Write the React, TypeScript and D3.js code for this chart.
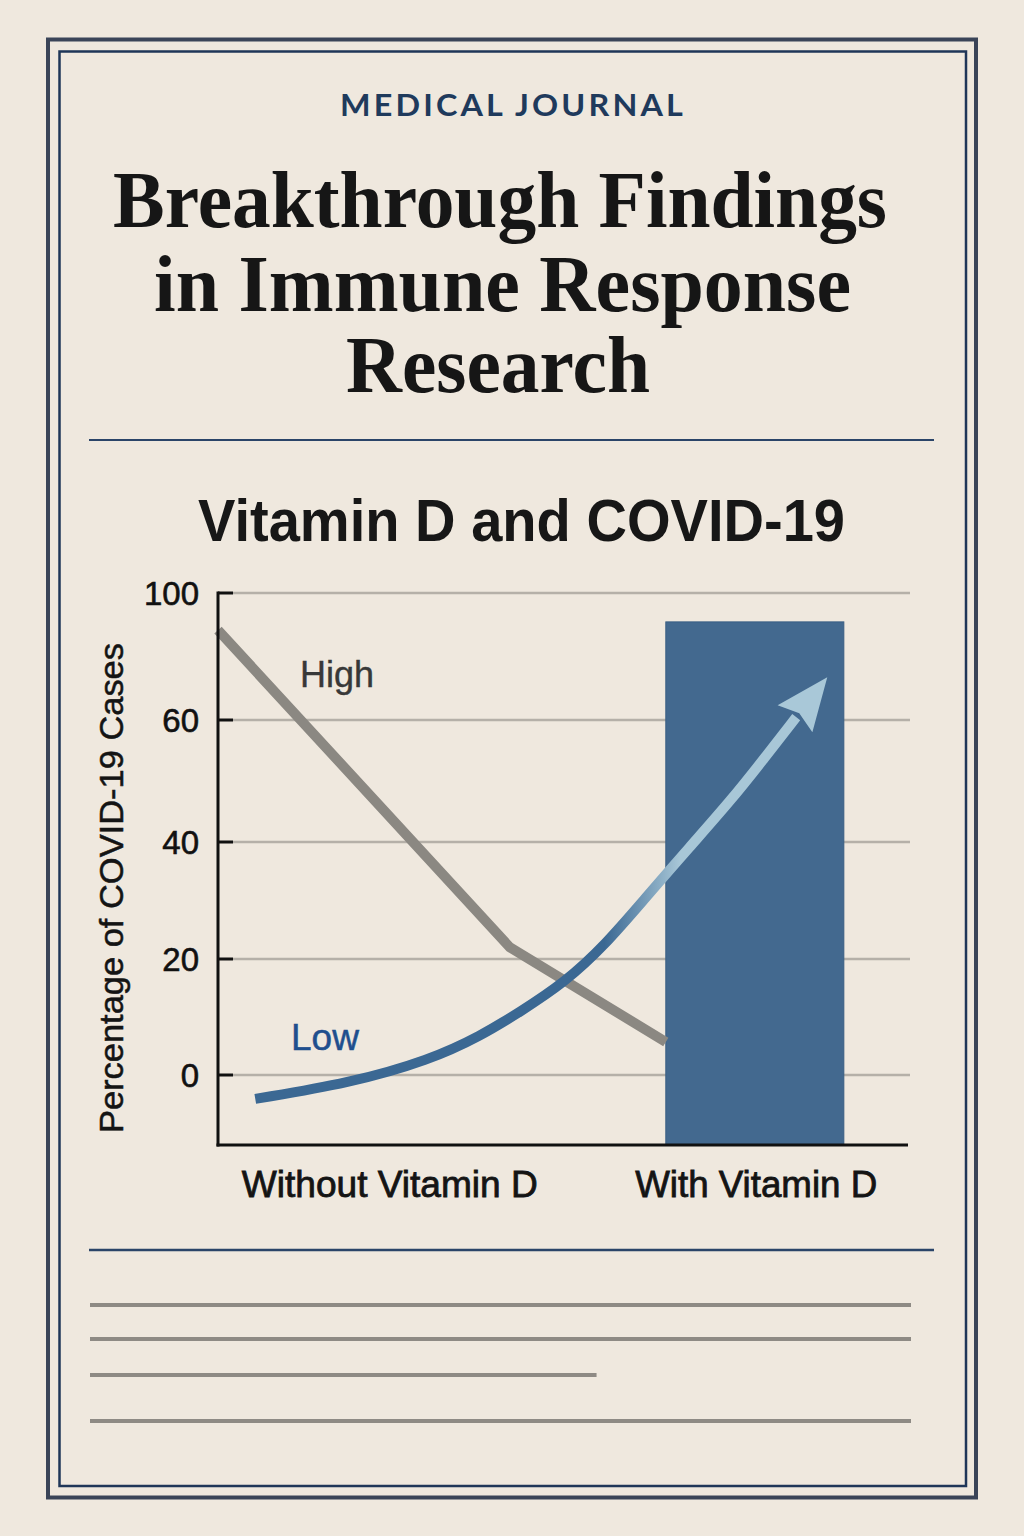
import React from "react";
import * as d3 from "d3";

// ---------- data ----------
const categories = ["Without Vitamin D", "With Vitamin D"];
const categoryPos = [24.9, 78.0]; // x-position (0-100 axis units) of category labels
const yTicks = [0, 20, 40, 60, 100];

// "High" (grey) series
const highX = [0, 42.3, 64.9];
const highY = [88.3, 22.0, 5.7];

// "Low" (blue, rising arrow) series
const lowX = [5.4, 19.1, 30.7, 38.0, 43.8, 50.3, 56.1, 61.7, 68.4, 74.4, 79.3, 83.8];
const lowY = [-4.1, -1.4, 2.6, 6.7, 10.9, 16.0, 22.4, 30.1, 39.2, 46.9, 53.9, 60.9];
const lowTip = { x: 88.3, y: 73.5 };

// bar for "With Vitamin D"
const barX0 = [64.9];
const barX1 = [90.7];
const barValue = [90.9];

const bodyLines = [1, 1, 0.617, 1]; // relative lengths of placeholder text lines

export default function App() {
  const W = 1024;
  const H = 1536;
  const bg = "#efe8de";
  const navy = "#1f3658";

  const x = d3.scaleLinear().domain([0, 100]).range([218, 908]);
  // piecewise axis, as in the original (uneven tick spacing)
  const y = d3
    .scaleLinear()
    .domain([-12, 0, 20, 40, 60, 100])
    .range([1145, 1075, 959, 842, 720, 593]);

  const highPts = highX.map((v, i) => ({ x: v, y: highY[i] }));
  const lowPts = lowX.map((v, i) => ({ x: v, y: lowY[i] }));

  const lineLinear = d3
    .line<{ x: number; y: number }>()
    .x((d) => x(d.x))
    .y((d) => y(d.y));
  const lineCurve = d3
    .line<{ x: number; y: number }>()
    .x((d) => x(d.x))
    .y((d) => y(d.y))
    .curve(d3.curveBasis);

  // arrowhead
  const last = lowPts[lowPts.length - 1];
  const bx = x(last.x);
  const by = y(last.y);
  const tx = x(lowTip.x);
  const ty = y(lowTip.y);
  const len = Math.hypot(tx - bx, ty - by);
  const ux = (tx - bx) / len;
  const uy = (ty - by) / len;
  const nx = -uy;
  const ny = ux;
  const hw = 22;
  const head = [
    [tx, ty],
    [bx + nx * hw - ux * 2, by + ny * hw - uy * 2],
    [bx + ux * 5, by + uy * 5],
    [bx - nx * hw - ux * 2, by - ny * hw - uy * 2],
  ]
    .map((p) => p.join(","))
    .join(" ");

  const gridX0 = 233;
  const gridX1 = 910;
  const axisLeft = x(0);
  const axisBottom = y(-12);

  const sans = "'Liberation Sans', Arial, sans-serif";

  return (
    <svg
      width={W}
      height={H}
      viewBox={`0 0 ${W} ${H}`}
      style={{ position: "absolute", left: 0, top: 0, display: "block" }}
    >
      <defs>
        <linearGradient
          id="lowGrad"
          gradientUnits="userSpaceOnUse"
          x1={x(56)}
          y1={0}
          x2={x(67)}
          y2={0}
        >
          <stop offset="0" stopColor="#3b6893" />
          <stop offset="1" stopColor="#a8c7d7" />
        </linearGradient>
      </defs>
      <rect x={0} y={0} width={W} height={H} fill={bg} />

      {/* frame */}
      <rect x={48} y={39.5} width={928} height={1458} fill="none" stroke="#3a4458" strokeWidth={4} />
      <rect x={59.5} y={51.5} width={906.5} height={1434.5} fill="none" stroke={navy} strokeWidth={2.5} />

      {/* header */}
      <text
        x={340}
        y={116}
        fontFamily="Lato, 'Open Sans', sans-serif"
        fontWeight={700}
        fontSize={31}
        letterSpacing={3}
        fill="#1f3a5c"
        textLength={346}
        lengthAdjust="spacingAndGlyphs"
      >
        MEDICAL JOURNAL
      </text>
      <g fontFamily="'Liberation Serif', 'Times New Roman', serif" fontWeight={700} fill="#161616" fontSize={80} textAnchor="middle">
        <text x={500} y={227} textLength={774} lengthAdjust="spacingAndGlyphs">
          Breakthrough Findings
        </text>
        <text x={502.5} y={311} textLength={697} lengthAdjust="spacingAndGlyphs">
          in Immune Response
        </text>
        <text x={498} y={392} textLength={304} lengthAdjust="spacingAndGlyphs">
          Research
        </text>
      </g>
      <line x1={89} x2={934} y1={440} y2={440} stroke="#2a4468" strokeWidth={2} />

      {/* chart title */}
      <text
        x={198}
        y={541}
        fontFamily={sans}
        fontWeight={700}
        fontSize={59}
        fill="#171717"
        textLength={647}
        lengthAdjust="spacingAndGlyphs"
      >
        Vitamin D and COVID-19
      </text>

      {/* grid + ticks */}
      {yTicks.map((t) => (
        <g key={t}>
          <line x1={gridX0} x2={gridX1} y1={y(t)} y2={y(t)} stroke="#b5b0a8" strokeWidth={2.5} />
          <line x1={axisLeft} x2={gridX0} y1={y(t)} y2={y(t)} stroke="#111" strokeWidth={3} />
          <text
            x={199}
            y={y(t)}
            dy="0.36em"
            textAnchor="end"
            fontFamily={sans}
            fontSize={33}
            fill="#111"
            stroke="#111"
            strokeWidth={0.6}
          >
            {t}
          </text>
        </g>
      ))}

      {/* bar */}
      {barValue.map((v, i) => (
        <rect
          key={i}
          x={x(barX0[i])}
          y={y(v)}
          width={x(barX1[i]) - x(barX0[i])}
          height={axisBottom - y(v)}
          fill="#43698f"
          stroke="#3a5f84"
          strokeWidth={1}
        />
      ))}

      {/* grey "High" line */}
      <path d={lineLinear(highPts) || ""} fill="none" stroke="#8b8882" strokeWidth={10} />

      {/* blue "Low" curve with arrow */}
      <path d={lineCurve(lowPts) || ""} fill="none" stroke="url(#lowGrad)" strokeWidth={10} />
      <polygon points={head} fill="#a9c8d8" />

      {/* axes */}
      <line x1={axisLeft} x2={axisLeft} y1={y(100) - 1.5} y2={axisBottom + 1.5} stroke="#111" strokeWidth={3} />
      <line x1={axisLeft - 1.5} x2={908} y1={axisBottom} y2={axisBottom} stroke="#111" strokeWidth={3} />

      {/* series labels */}
      <text x={300} y={687} fontFamily={sans} fontSize={36} fill="#383838" stroke="#383838" strokeWidth={0.4}>
        High
      </text>
      <text x={291} y={1050} fontFamily={sans} fontSize={37} fill="#1f4f8e" stroke="#1f4f8e" strokeWidth={0.5}>
        Low
      </text>

      {/* category labels */}
      {categories.map((c, i) => (
        <text
          key={c}
          x={x(categoryPos[i])}
          y={1197}
          textAnchor="middle"
          fontFamily={sans}
          fontSize={36}
          fill="#141414"
          stroke="#141414"
          strokeWidth={0.8}
          textLength={c.length > 15 ? 296 : 242}
          lengthAdjust="spacingAndGlyphs"
        >
          {c}
        </text>
      ))}

      {/* y axis title */}
      <text
        transform={`translate(123, 888) rotate(-90)`}
        textAnchor="middle"
        fontFamily={sans}
        fontSize={34}
        fill="#141414"
        stroke="#141414"
        strokeWidth={0.5}
        textLength={490}
        lengthAdjust="spacingAndGlyphs"
      >
        Percentage of COVID-19 Cases
      </text>

      {/* footer rule + placeholder text lines */}
      <line x1={89} x2={934} y1={1250} y2={1250} stroke="#2a4468" strokeWidth={2.5} />
      {bodyLines.map((f, i) => {
        const ys = [1305, 1339, 1375, 1421];
        return (
          <line
            key={i}
            x1={90}
            x2={90 + 821 * f}
            y1={ys[i]}
            y2={ys[i]}
            stroke="#8e8a84"
            strokeWidth={4}
          />
        );
      })}
    </svg>
  );
}
